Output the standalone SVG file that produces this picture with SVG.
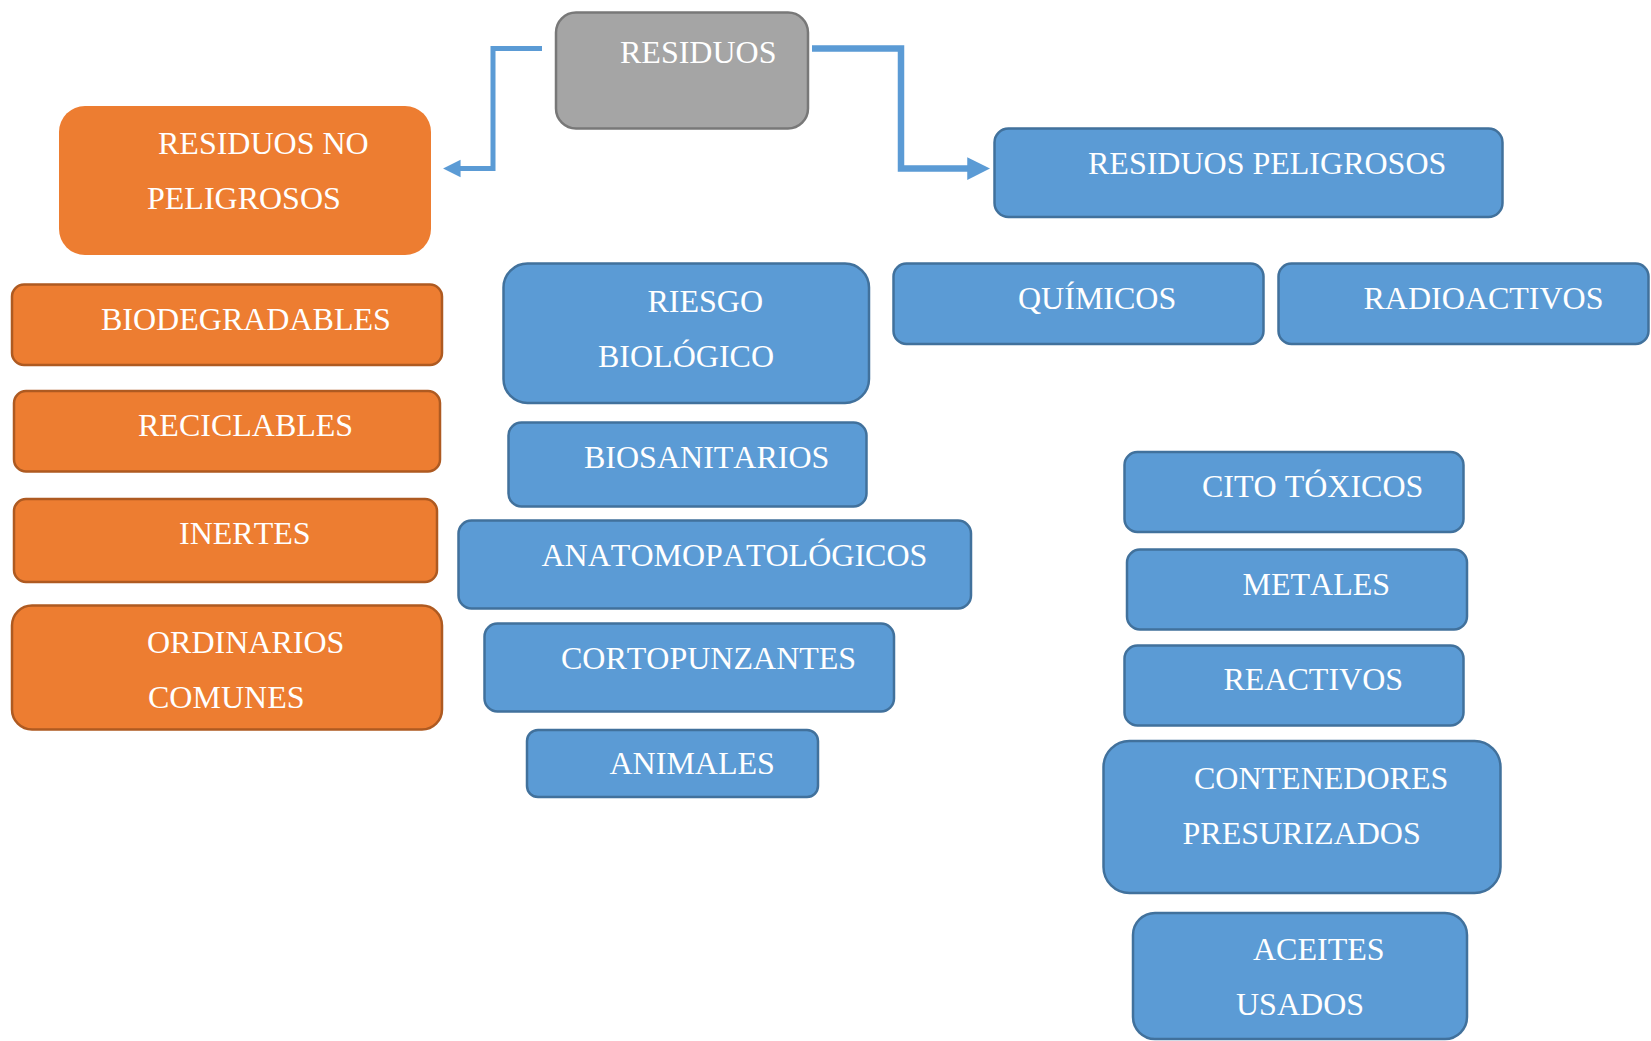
<svg xmlns="http://www.w3.org/2000/svg" width="1651" height="1041" viewBox="0 0 1651 1041">
  <style>
    .lbl { font-family: "Liberation Serif", "Times New Roman", serif; font-size: 32px; fill: #ffffff; font-kerning: none; }
    .root { fill: #A5A5A5; stroke: #787878; stroke-width: 2.5; }
    .org { fill: #ED7D31; stroke: #AE5A21; stroke-width: 2.5; }
    .org-top { fill: #ED7D31; stroke: none; }
    .blu { fill: #5B9BD5; stroke: #41719C; stroke-width: 2.5; }
    .link { fill: none; stroke: #5B9BD5; stroke-linejoin: miter; }
  </style>
  <defs>
    <marker id="head" viewBox="0 0 10 10" refX="5" refY="5" markerWidth="3.5" markerHeight="3.7" markerUnits="strokeWidth" orient="auto">
      <path d="M0,0 L10,5 L0,10 z" fill="#5B9BD5"/>
    </marker>
  </defs>
  <rect width="1651" height="1041" fill="#ffffff"/>

  <!-- connectors from the root to the two main branches -->
  <g id="connectors">
    <path class="link" stroke-width="5" d="M542,48.5 H493 V168.5 H451.8" marker-end="url(#head)"/>
    <path class="link" stroke-width="6.5" d="M812,48.5 H901 V168.5 H978.6" marker-end="url(#head)"/>
  </g>

  <!-- root -->
  <g id="residuos">
    <rect class="root" x="556" y="12.5" width="252" height="116" rx="20"/>
    <text class="lbl" x="620" y="63">RESIDUOS</text>
  </g>

  <!-- non-hazardous branch -->
  <g id="no-peligrosos">
    <rect class="org-top" x="59" y="106" width="372" height="149" rx="26"/>
    <text class="lbl" x="158" y="154">RESIDUOS NO</text>
    <text class="lbl" x="147" y="208.5">PELIGROSOS</text>
  </g>
  <g id="biodegradables">
    <rect class="org" x="12" y="284.5" width="430" height="80.5" rx="12"/>
    <text class="lbl" x="101" y="329.5">BIODEGRADABLES</text>
  </g>
  <g id="reciclables">
    <rect class="org" x="14" y="391" width="426" height="80.5" rx="12"/>
    <text class="lbl" x="138" y="436">RECICLABLES</text>
  </g>
  <g id="inertes">
    <rect class="org" x="14" y="499" width="423" height="83" rx="12"/>
    <text class="lbl" x="179" y="544">INERTES</text>
  </g>
  <g id="ordinarios">
    <rect class="org" x="12" y="605.5" width="430" height="124" rx="20"/>
    <text class="lbl" x="147" y="653">ORDINARIOS</text>
    <text class="lbl" x="148" y="707.5">COMUNES</text>
  </g>

  <!-- hazardous branch -->
  <g id="peligrosos">
    <rect class="blu" x="994.5" y="128.5" width="508" height="88.5" rx="14"/>
    <text class="lbl" x="1088" y="173.5">RESIDUOS PELIGROSOS</text>
  </g>
  <g id="riesgo-biologico">
    <rect class="blu" x="503.5" y="263.5" width="365.5" height="139.5" rx="24"/>
    <text class="lbl" x="647.5" y="311.5">RIESGO</text>
    <text class="lbl" x="598" y="366.5">BIOLÓGICO</text>
  </g>
  <g id="biosanitarios">
    <rect class="blu" x="508.5" y="422.5" width="358" height="84" rx="13"/>
    <text class="lbl" x="584" y="467.5">BIOSANITARIOS</text>
  </g>
  <g id="anatomopatologicos">
    <rect class="blu" x="458.5" y="520.5" width="512.5" height="88" rx="13"/>
    <text class="lbl" x="541.5" y="565.5">ANATOMOPATOLÓGICOS</text>
  </g>
  <g id="cortopunzantes">
    <rect class="blu" x="484.5" y="623.5" width="409.5" height="88" rx="13"/>
    <text class="lbl" x="561" y="668.5">CORTOPUNZANTES</text>
  </g>
  <g id="animales">
    <rect class="blu" x="527" y="730" width="291" height="67" rx="11"/>
    <text class="lbl" x="609.5" y="774">ANIMALES</text>
  </g>
  <g id="quimicos">
    <rect class="blu" x="893.5" y="263.5" width="370" height="80.5" rx="13"/>
    <text class="lbl" x="1018" y="308.5">QUÍMICOS</text>
  </g>
  <g id="radioactivos">
    <rect class="blu" x="1278.5" y="263.5" width="370" height="80.5" rx="13"/>
    <text class="lbl" x="1363.5" y="308.5">RADIOACTIVOS</text>
  </g>
  <g id="cito-toxicos">
    <rect class="blu" x="1124.5" y="452" width="339" height="80" rx="13"/>
    <text class="lbl" x="1202" y="497">CITO TÓXICOS</text>
  </g>
  <g id="metales">
    <rect class="blu" x="1127" y="549.5" width="340" height="80" rx="13"/>
    <text class="lbl" x="1242.5" y="595">METALES</text>
  </g>
  <g id="reactivos">
    <rect class="blu" x="1124.5" y="645.5" width="339" height="80" rx="13"/>
    <text class="lbl" x="1223.5" y="689.5">REACTIVOS</text>
  </g>
  <g id="contenedores">
    <rect class="blu" x="1103.5" y="741" width="397" height="152" rx="26"/>
    <text class="lbl" x="1194" y="788.5">CONTENEDORES</text>
    <text class="lbl" x="1182.5" y="843.5">PRESURIZADOS</text>
  </g>
  <g id="aceites">
    <rect class="blu" x="1133" y="913" width="334" height="126" rx="22"/>
    <text class="lbl" x="1253" y="960">ACEITES</text>
    <text class="lbl" x="1236" y="1015">USADOS</text>
  </g>
</svg>
